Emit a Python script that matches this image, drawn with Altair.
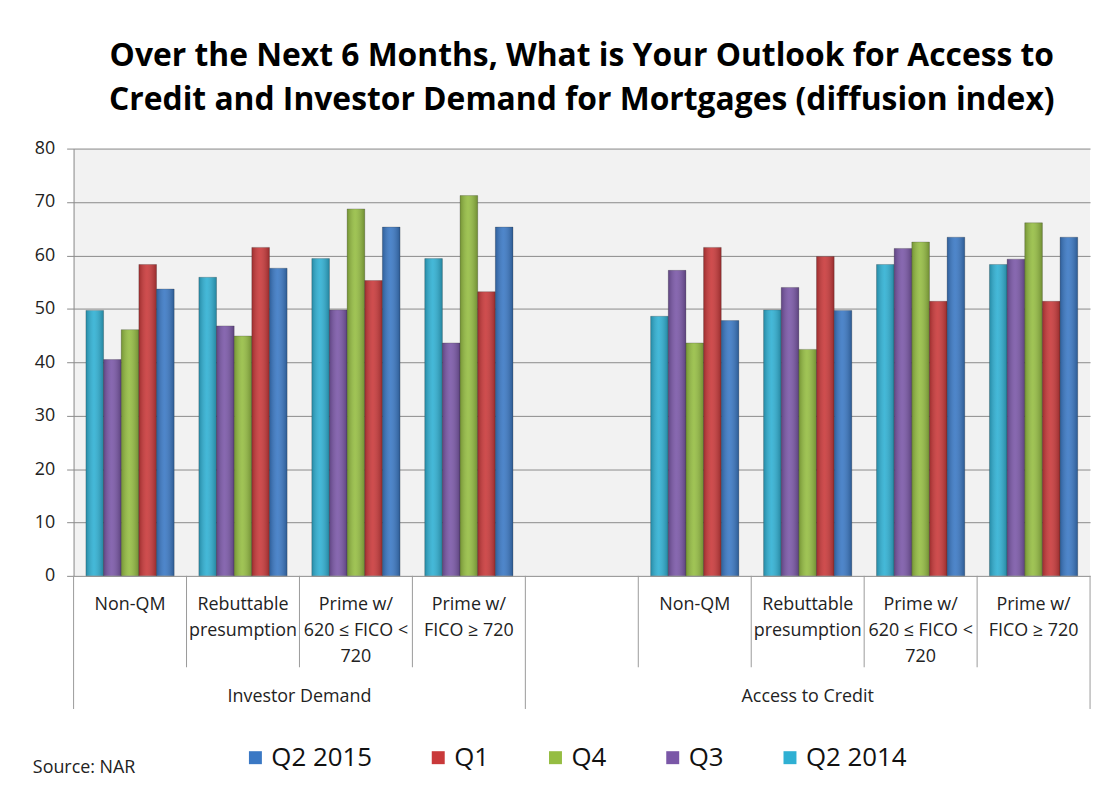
import altair as alt
import pandas as pd

# ---------------- data ----------------
series = ["Q2 2014", "Q3", "Q4", "Q1", "Q2 2015"]          # bar order within a category
legend_order = ["Q2 2015", "Q1", "Q4", "Q3", "Q2 2014"]    # legend order
legend_colors = ["#3a78c4", "#c9393a", "#95bd42", "#7a57a7", "#2fb0d3"]

categories = ["Non-QM", "Rebuttable presumption", "Prime w/ 620 ≤ FICO < 720", "Prime w/ FICO ≥ 720"]
cat_labels = ["Non-QM", "Rebuttable\npresumption", "Prime w/\n620 ≤ FICO <\n720", "Prime w/\nFICO ≥ 720"]
groups = ["Investor Demand", "Access to Credit"]

investor = {
    "Q2 2014": [49.7, 55.9, 59.4, 59.4],
    "Q3":      [40.5, 46.8, 49.8, 43.6],
    "Q4":      [46.1, 44.9, 68.7, 71.2],
    "Q1":      [58.3, 61.5, 55.3, 53.2],
    "Q2 2015": [53.7, 57.6, 65.3, 65.3],
}
access = {
    "Q2 2014": [48.6, 49.8, 58.3, 58.3],
    "Q3":      [57.2, 54.0, 61.3, 59.3],
    "Q4":      [43.6, 42.4, 62.5, 66.1],
    "Q1":      [61.5, 59.8, 51.4, 51.4],
    "Q2 2015": [47.8, 49.7, 63.4, 63.4],
}

# slots on the x axis: 4 investor categories, one empty slot, 4 access categories
slots = [f"{groups[0]}|{c}" for c in categories] + ["gap"] + [f"{groups[1]}|{c}" for c in categories]

rows = []
for g, table in zip(groups, [investor, access]):
    for s in series:
        for c, v in zip(categories, table[s]):
            rows.append({"slot": f"{g}|{c}", "series": s, "value": v})
df = pd.DataFrame(rows)

label_df = pd.DataFrame(
    [{"slot": f"{g}|{c}", "label": l} for g in groups for c, l in zip(categories, cat_labels)]
)

W, H = 1023, 430
FONT = "Open Sans"

xscale = alt.Scale(domain=slots, paddingInner=0, paddingOuter=0)
xenc = alt.X("slot:N", scale=xscale, axis=None, sort=slots)

yenc = alt.Y(
    "value:Q",
    scale=alt.Scale(domain=[0, 80]),
    axis=alt.Axis(
        values=[0, 10, 20, 30, 40, 50, 60, 70, 80],
        title=None,
        grid=True,
        gridColor="#8a8a8a",
        domainColor="#8a8a8a",
        tickColor="#8a8a8a",
        tickSize=7,
        labelPadding=12,
        labelFont=FONT,
        labelFontSize=18,
        labelColor="#222222",
    ),
)

xoff = alt.XOffset("series:N", sort=series, scale=alt.Scale(paddingOuter=0.7, paddingInner=0))

bars = alt.Chart(df).mark_bar(stroke="#3a3a3a", strokeWidth=0.6, strokeOpacity=0.45).encode(
    x=xenc,
    xOffset=xoff,
    y=yenc,
    color=alt.Color(
        "series:N",
        scale=alt.Scale(domain=legend_order, range=legend_colors),
        legend=alt.Legend(
            title=None,
            orient="none",
            direction="horizontal",
            legendX=170,
            legendY=600,
            symbolType="square",
            symbolSize=170,
            symbolStrokeWidth=0,
            labelFont=FONT,
            labelFontSize=26,
            labelColor="#111111",
            labelOffset=3,
            columnPadding=53,
            padding=0,
        ),
    ),
)

shade = alt.Chart(df).mark_bar(
    color=alt.Gradient(
        gradient="linear",
        x1=0, x2=1, y1=0, y2=0,
        stops=[
            alt.GradientStop(offset=0, color="rgba(0,0,0,0.22)"),
            alt.GradientStop(offset=0.45, color="rgba(255,255,255,0.10)"),
            alt.GradientStop(offset=1, color="rgba(0,0,0,0.25)"),
        ],
    )
).encode(x=xenc, xOffset=xoff, y=yenc)

sep_short = pd.DataFrame({"slot": [slots[i] for i in [1, 2, 3, 5, 6, 7, 8]]})
sep_long_left = pd.DataFrame({"slot": [slots[0], slots[4]]})
sep_long_right = pd.DataFrame({"slot": [slots[8]]})

rule_style = dict(color="#9a9a9a", strokeWidth=1)
r1 = alt.Chart(sep_short).mark_rule(**rule_style).encode(
    x=alt.X("slot:N", scale=xscale, axis=None, sort=slots, bandPosition=0),
    y=alt.value(H), y2=alt.value(H + 92))
r2 = alt.Chart(sep_long_left).mark_rule(**rule_style).encode(
    x=alt.X("slot:N", scale=xscale, axis=None, sort=slots, bandPosition=0),
    y=alt.value(H), y2=alt.value(H + 134))
r3 = alt.Chart(sep_long_right).mark_rule(**rule_style).encode(
    x=alt.X("slot:N", scale=xscale, axis=None, sort=slots, bandPosition=1),
    y=alt.value(H), y2=alt.value(H + 134))

cat_text = alt.Chart(label_df).mark_text(
    lineBreak="\n", font=FONT, fontSize=18, lineHeight=26.5, baseline="top", color="#222222"
).encode(x=xenc, y=alt.value(H + 20), text="label:N")

grp1 = alt.Chart(pd.DataFrame({"slot": [slots[2]], "label": [groups[0]]})).mark_text(
    font=FONT, fontSize=18, baseline="middle", color="#222222"
).encode(x=alt.X("slot:N", scale=xscale, axis=None, sort=slots, bandPosition=0),
         y=alt.value(H + 122), text="label:N")
grp2 = alt.Chart(pd.DataFrame({"slot": [slots[6]], "label": [groups[1]]})).mark_text(
    font=FONT, fontSize=18, baseline="middle", color="#222222"
).encode(x=alt.X("slot:N", scale=xscale, axis=None, sort=slots, bandPosition=0.5),
         y=alt.value(H + 122), text="label:N")

source = alt.Chart(pd.DataFrame({"t": ["Source: NAR"]})).mark_text(
    font=FONT, fontSize=18, align="left", baseline="middle", color="#222222"
).encode(x=alt.value(-41), y=alt.value(H + 193), text="t:N")

chart = alt.layer(bars, shade, r1, r2, r3, cat_text, grp1, grp2, source).properties(
    width=W,
    height=H,
    autosize=alt.AutoSizeParams(type="none"),
    padding={"left": 66, "top": 139, "right": 8, "bottom": 209},
    background="white",
    title=alt.TitleParams(
        ["Over the Next 6 Months, What is Your Outlook for Access to",
         "Credit and Investor Demand for Mortgages (diffusion index)"],
        font=FONT, fontSize=32, fontWeight="bold", lineHeight=44,
        anchor="middle", offset=23, color="#000000",
    ),
).configure_view(fill="#f2f2f2", stroke=None)

chart.save("out.html", embed_options={"renderer": "svg", "actions": False})
